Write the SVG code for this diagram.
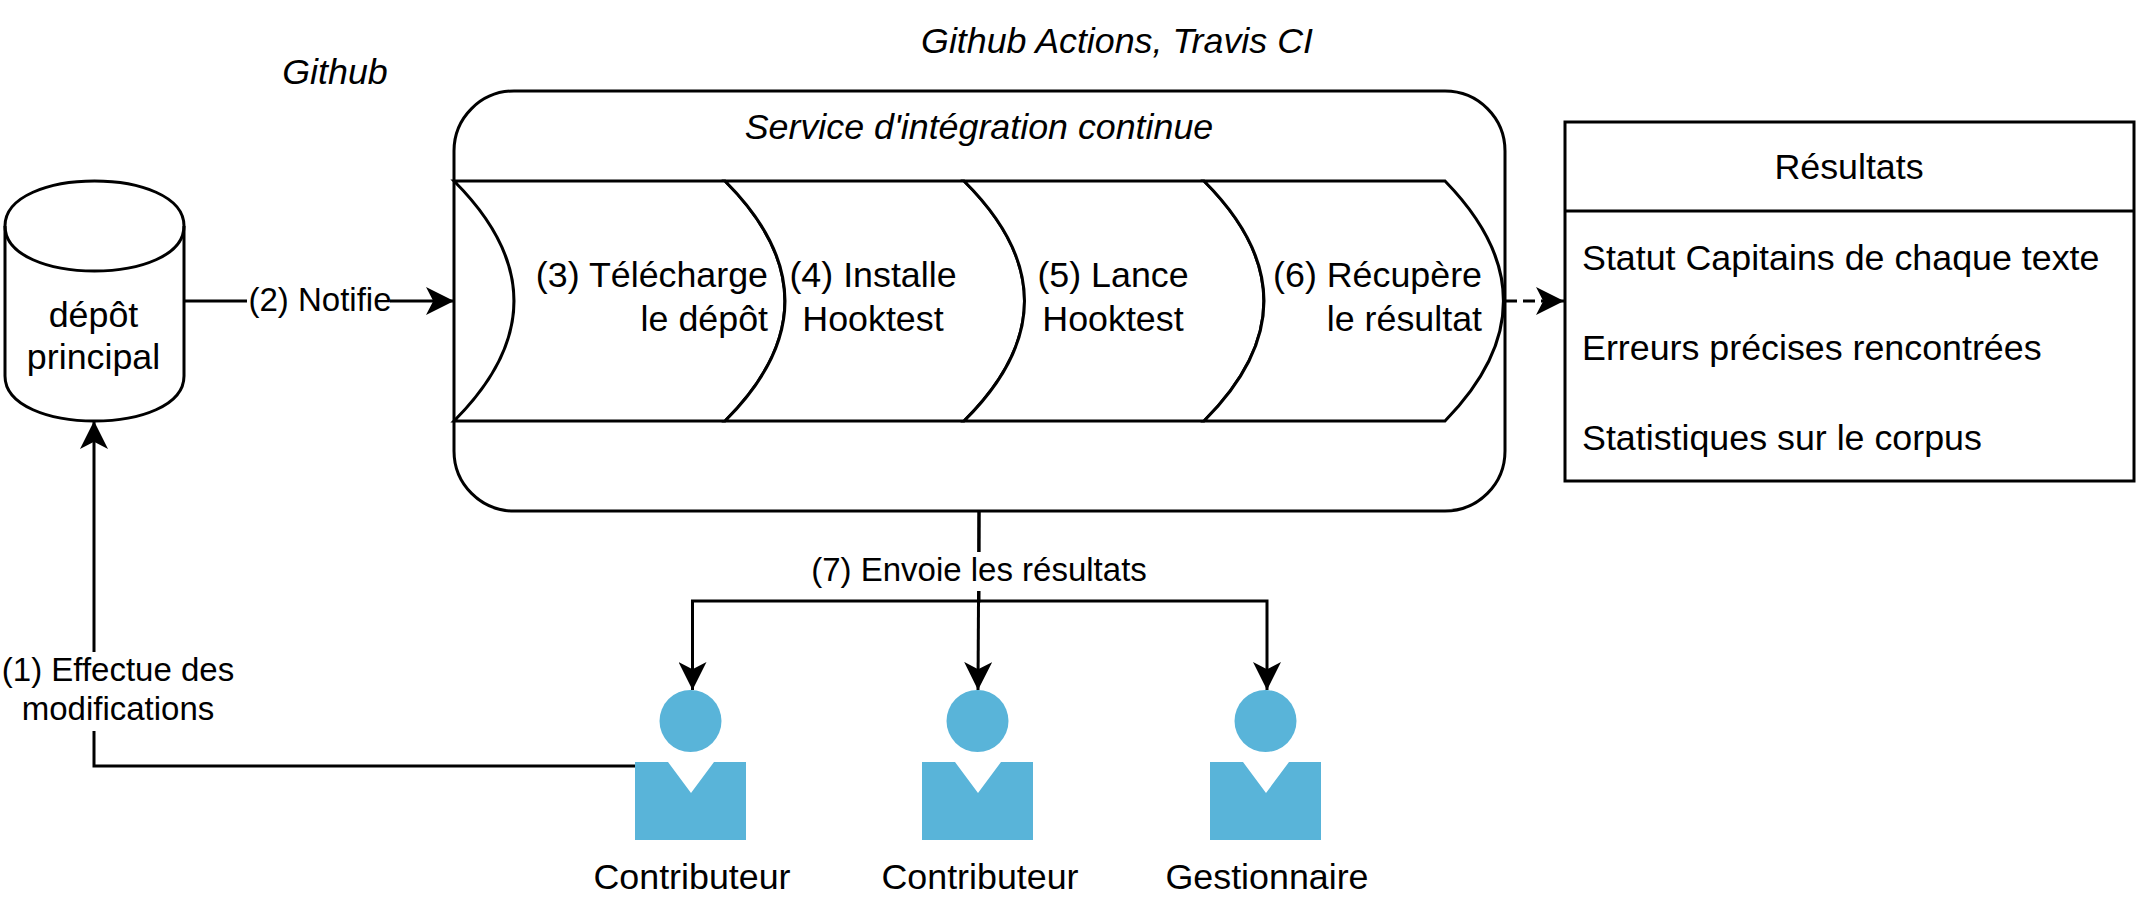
<svg xmlns="http://www.w3.org/2000/svg" width="2136" height="906" viewBox="0 0 2136 906">
<style>
text{font-family:"Liberation Sans",Arial,sans-serif;font-size:35.8px;fill:#000}
.m{text-anchor:middle}.i{font-style:italic}
text.e{font-size:33px}
.s{fill:#fff;stroke:#000;stroke-width:3}
.l{fill:none;stroke:#000;stroke-width:3}
.p{fill:#59b4d9}
</style>
<defs>
<marker id="a" markerUnits="userSpaceOnUse" markerWidth="28" markerHeight="28" viewBox="0 0 27 27" refX="27" refY="13.5" orient="auto"><path d="M27 13.5 0 0 7 13.5 0 27Z" fill="#000"/></marker>
<g id="person"><circle cx="55.5" cy="-41" r="31" class="p"/><path class="p" d="M0 0H33L56 31 79 0H111V78H0Z"/></g>
</defs>
<rect width="2136" height="906" fill="#fff"/>
<g id="service"><rect class="s" x="454" y="91" width="1051" height="420" rx="60" ry="60"/><text class="m i" x="979" y="139">Service d'intégration continue</text></g>
<g id="step3"><path class="s" d="M454 181H725Q845 301 725 421H454Q574 301 454 181Z"/><text x="768" y="287" text-anchor="end">(3) Télécharge</text><text x="768" y="331" text-anchor="end">le dépôt</text></g>
<g id="step4"><path class="s" d="M725 181H964Q1085 301 964 421H725Q845 301 725 181Z"/><text class="m" x="873" y="287">(4) Installe</text><text class="m" x="873" y="331">Hooktest</text></g>
<g id="step5"><path class="s" d="M964 181H1204Q1324 301 1204 421H964Q1085 301 964 181Z"/><text class="m" x="1113" y="287">(5) Lance</text><text class="m" x="1113" y="331">Hooktest</text></g>
<g id="step6"><path class="s" d="M1204 181H1445Q1562 301 1445 421H1204Q1324 301 1204 181Z"/><text x="1482" y="287" text-anchor="end">(6) Récupère</text><text x="1482" y="331" text-anchor="end">le résultat</text></g>
<g id="depot"><path class="s" d="M5 226C5 166 184 166 184 226V376C184 436 5 436 5 376Z"/><path class="l" d="M5 226C5 286 184 286 184 226"/><text class="m" x="93.500" y="327">dépôt</text><text class="m" x="93.500" y="369">principal</text></g>
<g id="resultats"><rect class="s" x="1565" y="122" width="569" height="359"/><path class="l" d="M1565 211H2134"/><text class="m" x="1849" y="179">Résultats</text><text x="1582" y="270">Statut Capitains de chaque texte</text><text x="1582" y="360">Erreurs précises rencontrées</text><text x="1582" y="450">Statistiques sur le corpus</text></g>
<g id="titles"><text class="m i" x="335" y="84">Github</text><text class="m i" x="1117" y="53">Github Actions, Travis CI</text></g>
<g id="connectors">
<path class="l" d="M184 301H454" marker-end="url(#a)"/>
<path class="l" d="M635 766H94V421" marker-end="url(#a)"/>
<path class="l" d="M1505 301H1564" stroke-dasharray="12 6" marker-end="url(#a)"/>
<path class="l" d="M979 511V601H692.500V690" marker-end="url(#a)"/>
<path class="l" d="M979 511 978 690" marker-end="url(#a)"/>
<path class="l" d="M979 601H1267V690" marker-end="url(#a)"/>
<rect x="247" y="280" width="143" height="42" fill="#fff"/><text class="m e" x="320" y="311">(2) Notifie</text>
<rect x="810" y="552" width="338" height="39" fill="#fff"/><text class="m e" x="979" y="581">(7) Envoie les résultats</text>
<rect x="1" y="652" width="236" height="79" fill="#fff"/><text class="m e" x="118" y="681">(1) Effectue des</text><text class="m e" x="118" y="720">modifications</text>
</g>
<g id="contributeur1"><use href="#person" x="635" y="762"/><text class="m" x="692" y="889">Contributeur</text></g>
<g id="contributeur2"><use href="#person" x="922" y="762"/><text class="m" x="980" y="889">Contributeur</text></g>
<g id="gestionnaire"><use href="#person" x="1210" y="762"/><text class="m" x="1267" y="889">Gestionnaire</text></g>
</svg>
